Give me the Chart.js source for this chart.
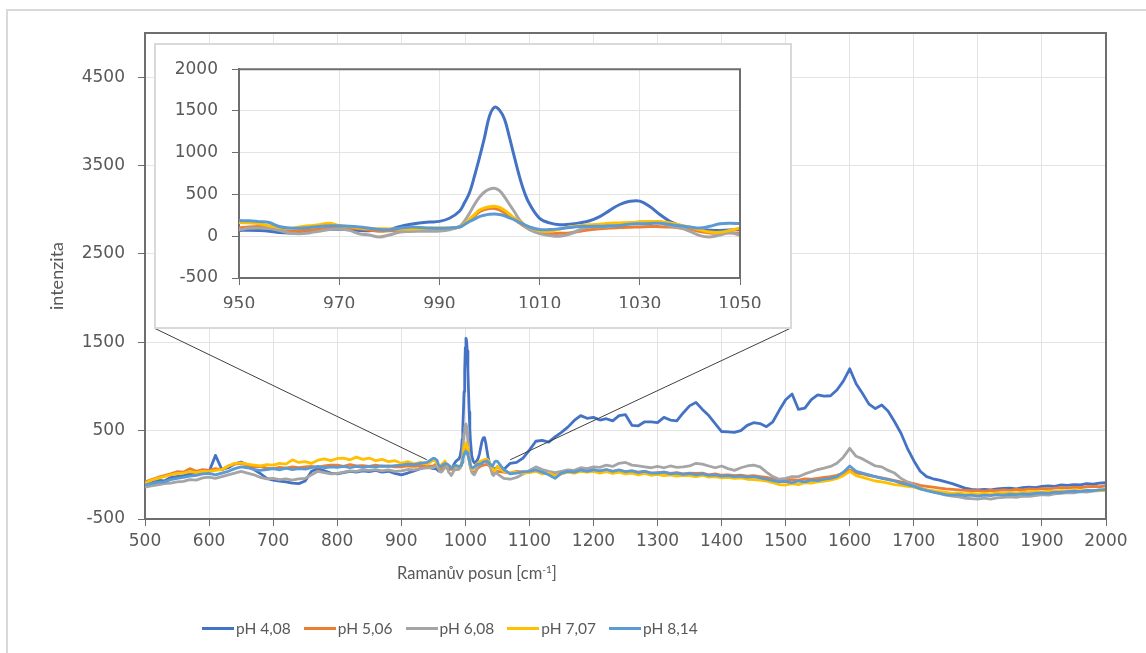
<!DOCTYPE html>
<html lang="cs">
<head>
<meta charset="utf-8">
<title>Ramanova spektra</title>
<script src="https://cdn.jsdelivr.net/npm/chart.js@4.4.1/dist/chart.umd.min.js"></script>
<style>
  html, body { margin:0; padding:0; background:#fff; }
  body { width:1146px; height:653px; position:relative; overflow:hidden; font-family:Lato, "Open Sans", sans-serif; }
  #frame { position:absolute; left:6px; top:9px; width:1400px; height:900px; border-left:2px solid #d9d9d9; border-top:2px solid #d9d9d9; }
  #main { position:absolute; left:0; top:0; }
  #insetBox { position:absolute; left:154px; top:43px; width:638px; height:286px; box-sizing:border-box; border:2px solid #d9d9d9; background:#fff; }
  #inset { position:absolute; left:0; top:0; }
  #xtitle { position:absolute; left:397px; top:563px; font-size:16.5px; color:#595959; white-space:nowrap; }
  #xtitle sup { font-size:10px; vertical-align:6px; line-height:0; }
  #legend { position:absolute; left:202px; top:619px; display:flex; align-items:center; font-size:15.5px; color:#595959; white-space:nowrap; }
  .item { display:flex; align-items:center; margin-right:13px; }
  .sw { width:32px; height:3px; margin-right:2px; }
</style>
</head>
<body>
<div id="frame"></div>
<canvas id="main" width="1146" height="653"></canvas>
<div id="insetBox"><canvas id="inset" width="634" height="282"></canvas></div>
<div id="xtitle">Ramanův posun [cm<sup>-1</sup>]</div>
<div id="legend"></div>
<script>
// ---------- DATA ----------
const seriesLabels = ['pH 4,08', 'pH 5,06', 'pH 6,08', 'pH 7,07', 'pH 8,14'];

// main spectrum: Raman shift 500..2000 cm-1, every 10 cm-1
const mainStart = 500, mainEnd = 2000, mainStep = 10;

const main_pH408 = [
 -100,-90,-60,-70,-30,-20,-10,10,0,30,
 35,220,60,80,125,145,110,60,15,-40,
 -60,-70,-80,-95,-100,-70,40,70,45,20,
 10,25,40,30,45,35,50,30,40,15,
 0,20,45,70,95,70,40,85,82,178,
 1440,215,185,420,98,85,60,130,140,190,
 280,380,390,370,430,480,540,615,670,640,
 650,620,635,610,670,680,560,555,600,600,
 590,650,620,610,700,780,820,740,670,580,
 490,485,480,500,560,590,580,545,600,730,
 850,915,740,755,850,905,890,895,960,1060,
 1200,1030,920,800,750,790,720,600,470,300,
 160,40,-20,-45,-60,-80,-100,-125,-150,-165,
 -170,-165,-170,-160,-155,-150,-160,-145,-140,-145,
 -130,-125,-130,-115,-120,-110,-115,-100,-105,-95,
 -90];
const main_pH506 = [
 -80,-55,-30,-10,10,35,30,70,40,60,
 50,70,55,100,120,130,110,90,95,75,
 70,85,75,90,80,90,95,85,100,110,
 110,95,115,100,105,95,110,95,100,90,
 90,100,95,105,100,98,59,105,65,78,
 332,45,78,112,86,39,30,20,40,30,
 35,50,20,30,0,30,45,35,50,45,
 60,40,55,40,50,35,45,30,40,20,
 25,30,15,25,10,20,15,20,0,10,
 -5,0,-10,-5,-15,-10,-20,-30,-45,-55,
 -60,-55,-60,-45,-50,-40,-30,-20,-5,20,
 55,20,10,-10,-20,-35,-50,-65,-80,-85,
 -100,-120,-130,-140,-150,-160,-165,-170,-175,-180,
 -180,-185,-175,-180,-170,-175,-165,-170,-160,-165,
 -155,-160,-150,-145,-150,-140,-145,-135,-130,-135,
 -125];
const main_pH608 = [
 -140,-125,-115,-100,-95,-80,-75,-55,-60,-35,
 -25,-40,-20,0,20,40,20,0,-30,-45,
 -40,-55,-45,-60,-45,-40,0,40,25,10,
 15,30,45,40,55,50,60,45,55,40,
 45,60,55,70,80,78,40,86,15,62,
 565,31,109,170,59,10,-40,-50,-30,10,
 50,90,60,40,25,40,55,50,80,70,
 90,85,110,95,130,140,110,100,90,80,
 95,80,100,85,90,100,130,120,100,80,
 100,70,50,80,100,110,90,30,-20,-50,
 -40,-20,-20,10,35,60,75,95,130,200,
 300,210,180,140,100,90,50,20,-40,-80,
 -110,-150,-170,-190,-210,-230,-240,-250,-265,-270,
 -275,-265,-275,-260,-255,-250,-255,-240,-245,-235,
 -225,-230,-215,-210,-200,-205,-190,-195,-185,-180,
 -175];
const main_pH707 = [
 -95,-60,-40,-20,0,15,20,35,25,40,
 35,50,60,100,130,135,120,110,100,115,
 110,130,120,170,140,150,130,165,180,160,
 185,190,170,200,175,190,160,175,150,160,
 130,150,125,140,120,164,95,130,90,98,
 352,65,137,170,109,98,40,20,30,20,
 25,40,10,20,-10,10,30,20,40,30,
 40,20,35,15,30,10,20,0,15,-5,
 5,-10,0,-15,-5,-10,-20,-5,-25,-20,
 -35,-30,-40,-35,-50,-55,-60,-70,-90,-110,
 -115,-100,-110,-90,-95,-80,-70,-60,-40,-10,
 40,-10,-30,-50,-70,-80,-95,-110,-120,-130,
 -140,-160,-170,-180,-190,-200,-210,-205,-215,-210,
 -220,-210,-215,-205,-210,-200,-205,-195,-200,-190,
 -195,-185,-190,-180,-185,-175,-180,-175,-180,-175,
 -180];
const main_pH814 = [
 -115,-100,-85,-80,-55,-40,-30,-15,-5,10,
 15,0,20,40,70,90,80,60,50,60,
 70,55,75,60,70,65,80,95,80,90,
 85,95,80,95,85,95,90,100,95,105,
 110,120,115,130,140,187,98,125,80,95,
 262,80,118,149,110,152,60,10,20,35,
 40,55,30,0,-40,20,40,30,55,40,
 55,45,60,40,55,35,45,25,40,20,
 20,30,10,20,5,15,0,10,-5,0,
 -15,-10,-20,-15,-25,-20,-35,-50,-65,-80,
 -75,-90,-70,-80,-60,-65,-50,-40,-20,30,
 100,40,20,0,-20,-40,-55,-70,-95,-110,
 -130,-160,-180,-195,-210,-225,-230,-225,-235,-230,
 -240,-230,-235,-225,-230,-220,-225,-215,-220,-210,
 -205,-210,-195,-200,-190,-185,-190,-175,-180,-170,
 -165];

// detail (inset) window 950..1050 cm-1
const insetX = [950,952,954,956,958,960,962,964,966,968,970,972,974,976,978,980,982,984,986,988,990,992,994,
 995,996,997,998,999,1000,1001,1002,1003,1004,1005,1006,1007,1008,
 1010,1012,1014,1016,1018,1020,1022,1024,1026,1028,1030,1032,1034,1036,1038,1040,1042,1044,1046,1048,1050];
const inset_pH408 = [70,72,68,60,45,40,42,55,75,82,85,80,70,65,75,82,115,140,158,170,178,215,300,
 400,520,720,940,1180,1440,1545,1510,1400,1180,940,710,520,385,
 215,160,138,145,160,185,235,310,380,418,420,355,260,180,130,98,80,72,70,75,85];
const inset_pH506 = [98,112,117,110,85,59,65,75,85,98,105,100,90,75,60,65,70,75,78,78,78,90,110,
 140,188,240,293,320,332,333,315,282,240,200,158,117,85,
 45,31,35,39,60,78,90,98,105,109,112,117,115,110,100,86,55,39,35,40,39];
const inset_pH608 = [78,95,98,92,70,40,31,40,60,80,86,70,30,15,-8,15,47,57,60,60,62,78,117,
 180,274,380,469,530,565,575,545,470,380,290,196,130,78,
 31,8,0,25,78,109,112,117,135,149,170,172,164,125,100,59,8,-8,15,45,10];
const inset_pH707 = [164,160,150,125,105,95,110,125,137,156,130,115,100,95,90,88,86,86,90,95,98,100,110,
 150,203,260,313,340,352,360,345,310,265,215,175,137,105,
 65,59,85,110,125,137,145,156,160,164,170,176,176,160,135,109,78,50,47,70,98];
const inset_pH814 = [187,185,175,164,117,98,95,105,118,125,125,120,110,95,80,78,95,109,105,98,95,100,110,
 140,176,205,235,252,262,266,260,245,220,196,165,137,110,
 80,80,90,105,117,118,120,125,130,145,149,152,156,140,125,110,98,120,149,156,152];

// tick labels
const mainXTicks = [500,600,700,800,900,1000,1100,1200,1300,1400,1500,1600,1700,1800,1900,2000];
const mainYTicks = [-500,500,1500,2500,3500,4500];
const mainYMax = 5000;
const insetXTicks = [950,970,990,1010,1030,1050];
const insetYTicks = [-500,0,500,1000,1500,2000];

// connector targets (data coordinates on the main chart)
const zoomLinkLeft = {x: 940, y: 170};
const zoomLinkRight = {x: 1070, y: 170};

// ---------- STYLE ----------
const seriesColors = ['#4472C4', '#ED7D31', '#A5A5A5', '#FFC000', '#5B9BD5'];
const TEXT = '#595959';
const GRID = '#e4e4e4';
const AXIS = '#6e6e6e';
const tickFont = {family: 'DejaVu Sans', size: 17};

// ---------- BUILD ----------
const mainVals = [main_pH408, main_pH506, main_pH608, main_pH707, main_pH814];
const insetVals = [inset_pH408, inset_pH506, inset_pH608, inset_pH707, inset_pH814];
const mainX = [];
for (let x = mainStart; x <= mainEnd; x += mainStep) mainX.push(x);
const detailFrom = insetX[0], detailTo = insetX[insetX.length - 1];

function mainPoints(i) {
  const pts = [];
  mainX.forEach((x, k) => { if (x < detailFrom) pts.push({x, y: mainVals[i][k]}); });
  insetX.forEach((x, k) => pts.push({x, y: insetVals[i][k]}));
  mainX.forEach((x, k) => { if (x > detailTo) pts.push({x, y: mainVals[i][k]}); });
  return pts;
}
function insetPoints(i) { return insetX.map((x, k) => ({x, y: insetVals[i][k]})); }

const frameLines = {
  id: 'frameLines',
  afterDatasetsDraw(chart) {
    const {ctx, chartArea: a} = chart;
    ctx.save();
    ctx.strokeStyle = AXIS; ctx.lineWidth = 2;
    ctx.beginPath();
    ctx.moveTo(a.left, a.top); ctx.lineTo(a.right, a.top); ctx.lineTo(a.right, a.bottom);
    ctx.stroke();
    ctx.restore();
  }
};
const connectors = {
  id: 'connectors',
  afterDatasetsDraw(chart) {
    const box = document.getElementById('insetBox');
    const xs = chart.scales.x, ys = chart.scales.y, ctx = chart.ctx;
    const by = box.offsetTop + box.offsetHeight - 1;
    const bl = box.offsetLeft, br = box.offsetLeft + box.offsetWidth - 1;
    ctx.save();
    ctx.strokeStyle = '#404040'; ctx.lineWidth = 1;
    ctx.beginPath();
    ctx.moveTo(bl, by); ctx.lineTo(xs.getPixelForValue(zoomLinkLeft.x), ys.getPixelForValue(zoomLinkLeft.y));
    ctx.moveTo(br, by); ctx.lineTo(xs.getPixelForValue(zoomLinkRight.x), ys.getPixelForValue(zoomLinkRight.y));
    ctx.stroke();
    ctx.restore();
  }
};

function datasets(pointsFn, width, tension) {
  return seriesLabels.map((label, i) => ({
    label, data: pointsFn(i), borderColor: seriesColors[i], backgroundColor: seriesColors[i],
    borderWidth: width, pointRadius: 0, tension, fill: false,
    order: seriesLabels.length - 1 - i, borderJoinStyle: 'round', borderCapStyle: 'round'
  }));
}
const fmt = v => String(v);

const mainChart = new Chart(document.getElementById('main'), {
  type: 'line',
  data: {datasets: datasets(mainPoints, 2.8, 0)},
  options: {
    responsive: false, animation: false, parsing: true,
    layout: {padding: {left: 0, top: 33, right: 40, bottom: 104}},
    plugins: {legend: {display: false}, tooltip: {enabled: false}},
    scales: {
      x: {
        type: 'linear', min: mainStart, max: mainEnd,
        afterBuildTicks: s => { s.ticks = mainXTicks.map(v => ({value: v})); },
        afterFit: s => { s.height = 30; },
        grid: {color: GRID, tickColor: AXIS, tickLength: 7, lineWidth: 1},
        border: {color: AXIS, width: 2},
        ticks: {color: TEXT, font: tickFont, padding: 5, maxRotation: 0, callback: fmt}
      },
      y: {
        type: 'linear', min: mainYTicks[0], max: mainYMax,
        afterBuildTicks: s => { s.ticks = mainYTicks.map(v => ({value: v})); },
        afterFit: s => { s.width = 145; },
        grid: {color: GRID, tickColor: AXIS, tickLength: 7, lineWidth: 1},
        border: {color: AXIS, width: 2},
        ticks: {color: TEXT, font: tickFont, padding: 13, callback: fmt},
        title: {display: true, text: 'intenzita', color: TEXT, font: {family: 'Lato', size: 18}, padding: {top: 46, bottom: 0}}
      }
    }
  },
  plugins: [frameLines, connectors]
});

const insetChart = new Chart(document.getElementById('inset'), {
  type: 'line',
  data: {datasets: datasets(insetPoints, 3, 0.4)},
  options: {
    responsive: false, animation: false,
    layout: {padding: {left: 0, top: 21, right: 50, bottom: 19}},
    plugins: {legend: {display: false}, tooltip: {enabled: false}},
    scales: {
      x: {
        type: 'linear', min: insetXTicks[0], max: insetXTicks[insetXTicks.length - 1],
        afterBuildTicks: s => { s.ticks = insetXTicks.map(v => ({value: v})); },
        afterFit: s => { s.height = 30; },
        grid: {color: GRID, tickColor: AXIS, tickLength: 7, lineWidth: 1},
        border: {color: AXIS, width: 2},
        ticks: {color: TEXT, font: tickFont, padding: 9, maxRotation: 0, callback: fmt}
      },
      y: {
        type: 'linear', min: insetYTicks[0], max: insetYTicks[insetYTicks.length - 1],
        afterBuildTicks: s => { s.ticks = insetYTicks.map(v => ({value: v})); },
        afterFit: s => { s.width = 83; },
        grid: {color: GRID, tickColor: AXIS, tickLength: 7, lineWidth: 1},
        border: {color: AXIS, width: 2},
        ticks: {color: TEXT, font: tickFont, padding: 14, callback: fmt}
      }
    }
  },
  plugins: [frameLines]
});

// legend built from the chart's datasets
const legendEl = document.getElementById('legend');
mainChart.data.datasets.forEach(ds => {
  const item = document.createElement('div'); item.className = 'item';
  const sw = document.createElement('span'); sw.className = 'sw'; sw.style.background = ds.borderColor;
  const tx = document.createElement('span'); tx.textContent = ds.label;
  item.appendChild(sw); item.appendChild(tx); legendEl.appendChild(item);
});
</script>
</body>
</html>
